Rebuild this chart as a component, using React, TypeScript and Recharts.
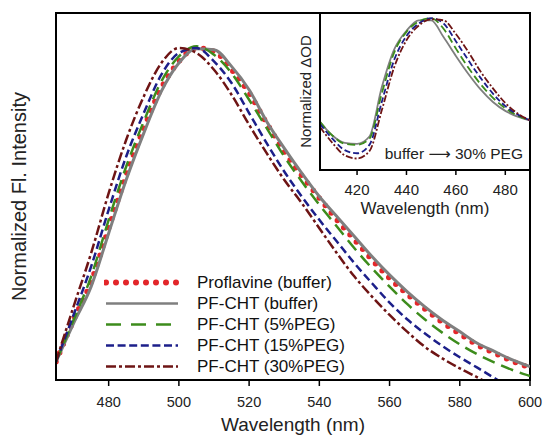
import React from "react";
import { LineChart, Line, XAxis, YAxis, ReferenceArea, Legend, Label } from "recharts";

const FONT = "'Liberation Sans', Arial, Helvetica, sans-serif";

// emission spectra, 465-600 nm every 5 nm (normalized)
const wavelengths = [465, 470, 475, 480, 485, 490, 495, 500, 505, 510, 515, 520, 525, 530, 535, 540, 545, 550, 555, 560, 565, 570, 575, 580, 585, 590, 595, 600];
const proflavineBuffer = [0.055, 0.18, 0.295, 0.455, 0.615, 0.755, 0.875, 0.955, 0.995, 0.985, 0.93, 0.86, 0.77, 0.685, 0.612, 0.545, 0.48, 0.42, 0.36, 0.305, 0.257, 0.213, 0.173, 0.138, 0.105, 0.08, 0.056, 0.037];
const pfBuffer = [0.055, 0.17, 0.28, 0.44, 0.6, 0.74, 0.865, 0.95, 0.993, 0.99, 0.94, 0.87, 0.775, 0.695, 0.62, 0.55, 0.49, 0.43, 0.37, 0.315, 0.265, 0.22, 0.18, 0.145, 0.11, 0.085, 0.06, 0.04];
const pf5 = [0.055, 0.18, 0.31, 0.48, 0.64, 0.775, 0.895, 0.97, 1.0, 0.975, 0.92, 0.84, 0.755, 0.67, 0.595, 0.525, 0.46, 0.395, 0.335, 0.28, 0.228, 0.182, 0.142, 0.107, 0.077, 0.052, 0.03, 0.012];
const pf15 = [0.055, 0.195, 0.34, 0.51, 0.67, 0.8, 0.915, 0.98, 0.995, 0.955, 0.89, 0.8, 0.71, 0.625, 0.55, 0.48, 0.415, 0.35, 0.29, 0.232, 0.182, 0.14, 0.102, 0.068, 0.037, 0.005, -0.025, -0.05];
const pf30 = [0.055, 0.22, 0.38, 0.56, 0.72, 0.85, 0.95, 0.995, 0.98, 0.93, 0.855, 0.765, 0.68, 0.6, 0.53, 0.455, 0.38, 0.31, 0.25, 0.195, 0.145, 0.1, 0.065, 0.035, 0.008, -0.02, -0.045, -0.07];
const xTicks = [480, 500, 520, 540, 560, 580, 600];

// inset: normalized delta OD, 405-490 nm
const insetWavelengths = [405, 410, 415, 420, 425, 430, 435, 440, 445, 450, 455, 460, 465, 470, 475, 480, 485, 490];
const insetBuffer = [0.01, -0.12, -0.19, -0.2, -0.13, 0.34, 0.7, 0.88, 0.98, 0.98, 0.82, 0.64, 0.47, 0.32, 0.2, 0.115, 0.06, 0.025];
const inset5 = [0.01, -0.12, -0.2, -0.21, -0.15, 0.28, 0.67, 0.87, 0.97, 1.0, 0.9, 0.71, 0.53, 0.37, 0.24, 0.14, 0.07, 0.025];
const inset15 = [-0.01, -0.15, -0.26, -0.29, -0.21, 0.2, 0.6, 0.83, 0.95, 1.0, 0.95, 0.78, 0.6, 0.43, 0.28, 0.16, 0.08, 0.025];
const inset30 = [-0.04, -0.19, -0.31, -0.34, -0.27, 0.12, 0.53, 0.79, 0.93, 0.99, 0.98, 0.85, 0.68, 0.49, 0.33, 0.19, 0.09, 0.025];
const insetTicks = [420, 440, 460, 480];

const RED = "#e3262a";
const GRAY = "#7f7f7f";
const GREEN = "#3d8c1c";
const BLUE = "#1c1f8a";
const BROWN = "#6e1414";

const series = [
  { key: "proflavine", name: "Proflavine (buffer)", color: RED, width: 5.5, dash: "0 9.6", cap: "round" },
  { key: "buffer", name: "PF-CHT (buffer)", color: GRAY, width: 3, dash: undefined, cap: "butt" },
  { key: "peg5", name: "PF-CHT (5%PEG)", color: GREEN, width: 2.5, dash: "13 7", cap: "butt" },
  { key: "peg15", name: "PF-CHT (15%PEG)", color: BLUE, width: 2.5, dash: "8 4", cap: "butt" },
  { key: "peg30", name: "PF-CHT (30%PEG)", color: BROWN, width: 2.5, dash: "10 3 3 3", cap: "butt" },
];
const legendDash: Record<string, string | undefined> = {
  proflavine: "0 10",
  buffer: undefined,
  peg5: "15 10",
  peg15: "8 3.6",
  peg30: "10 3 3 3",
};

const mainData = wavelengths.map((wl, i) => ({
  wl,
  proflavine: proflavineBuffer[i],
  buffer: pfBuffer[i],
  peg5: pf5[i],
  peg15: pf15[i],
  peg30: pf30[i],
}));

const insetData = insetWavelengths.map((wl, i) => ({
  wl,
  buffer: insetBuffer[i],
  peg5: inset5[i],
  peg15: inset15[i],
  peg30: inset30[i],
}));

const insetSeries = [
  { key: "buffer", color: GRAY, dash: undefined },
  { key: "peg5", color: GREEN, dash: "8 4" },
  { key: "peg15", color: BLUE, dash: "6 3" },
  { key: "peg30", color: BROWN, dash: "7 2 2 2" },
];

const renderLegend = () => (
  <div style={{ fontFamily: FONT, fontSize: 17, color: "#111" }}>
    {series.map((s) => (
      <div key={s.key} style={{ display: "flex", alignItems: "center", height: 21 }}>
        <svg width={78} height={21}>
          <line
            x1={2}
            x2={74}
            y1={10.5}
            y2={10.5}
            stroke={s.color}
            strokeWidth={s.key === "proflavine" ? 6 : 2.5}
            strokeDasharray={legendDash[s.key]}
            strokeLinecap={s.key === "proflavine" ? "round" : "butt"}
          />
        </svg>
        <span style={{ marginLeft: 15, lineHeight: "21px" }}>{s.name}</span>
      </div>
    ))}
  </div>
);

export default function App() {
  return (
    <div style={{ position: "absolute", left: 0, top: 0, width: 544, height: 435, background: "#fff" }}>
      <LineChart
        width={544}
        height={435}
        data={mainData}
        margin={{ top: 13, right: 14, left: 0, bottom: 0 }}
      >
        <XAxis
          dataKey="wl"
          type="number"
          domain={[465, 600]}
          ticks={xTicks}
          allowDataOverflow
          height={55}
          axisLine={{ stroke: "#000", strokeWidth: 2 }}
          tickLine={{ stroke: "#000", strokeWidth: 1.5 }}
          tickSize={6}
          tickMargin={11}
          tick={{ fontFamily: FONT, fontSize: 14.5, fill: "#222" }}
        >
          <Label
            content={(props: any) => {
              const vb = props.viewBox;
              return (
                <text x={vb.x + vb.width / 2} y={vb.y + 51} textAnchor="middle" fontFamily={FONT} fontSize={19} fill="#222">
                  Wavelength (nm)
                </text>
              );
            }}
          />
        </XAxis>
        <YAxis
          type="number"
          domain={[0, 1.1]}
          allowDataOverflow
          width={56}
          tick={false}
          tickLine={false}
          axisLine={{ stroke: "#000", strokeWidth: 2 }}
        >
          <Label
            content={(props: any) => {
              const vb = props.viewBox;
              const cx = 19;
              const cy = vb.y + vb.height / 2;
              return (
                <text
                  x={cx}
                  y={cy}
                  transform={`rotate(-90, ${cx}, ${cy})`}
                  textAnchor="middle"
                  dominantBaseline="central"
                  fontFamily={FONT}
                  fontSize={20}
                  fill="#222"
                >
                  Normalized Fl. Intensity
                </text>
              );
            }}
          />
        </YAxis>
        <ReferenceArea x1={465} x2={600} y1={0} y2={1.1} fill="none" stroke="#000" strokeWidth={2} />
        {series.map((s) => (
          <Line
            key={s.key}
            type="monotone"
            dataKey={s.key}
            name={s.name}
            stroke={s.color}
            strokeWidth={s.width}
            strokeDasharray={s.dash}
            strokeLinecap={s.cap as any}
            dot={false}
            activeDot={false}
            isAnimationActive={false}
          />
        ))}
        <Legend
          layout="vertical"
          align="center"
          verticalAlign="middle"
          content={renderLegend}
          wrapperStyle={{ left: 104, top: 272, width: 260 }}
        />
      </LineChart>

      <div style={{ position: "absolute", left: 280, top: 0 }}>
        <LineChart
          width={264}
          height={220}
          data={insetData}
          margin={{ top: 13, right: 14, left: 0, bottom: 0 }}
        >
          <XAxis
            dataKey="wl"
            type="number"
            domain={[405, 490]}
            ticks={insetTicks}
            allowDataOverflow
            height={50}
            axisLine={{ stroke: "#000", strokeWidth: 2 }}
            tickLine={{ stroke: "#000", strokeWidth: 1.5 }}
            tickSize={5}
            tickMargin={9}
            tick={{ fontFamily: FONT, fontSize: 15, fill: "#222" }}
          >
            <Label
              content={(props: any) => {
                const vb = props.viewBox;
                return (
                  <text x={vb.x + vb.width / 2} y={vb.y + 44} textAnchor="middle" fontFamily={FONT} fontSize={17} fill="#222">
                    Wavelength (nm)
                  </text>
                );
              }}
            />
          </XAxis>
          <YAxis
            type="number"
            domain={[-0.45, 1.05]}
            allowDataOverflow
            width={40}
            tick={false}
            tickLine={false}
            axisLine={{ stroke: "#000", strokeWidth: 2 }}
          >
            <Label
              content={(props: any) => {
                const vb = props.viewBox;
                const cx = 25;
                const cy = vb.y + vb.height / 2;
                return (
                  <text
                    x={cx}
                    y={cy}
                    transform={`rotate(-90, ${cx}, ${cy})`}
                    textAnchor="middle"
                    dominantBaseline="central"
                    fontFamily={FONT}
                    fontSize={15}
                    fill="#222"
                  >
                    Normalized ΔOD
                  </text>
                );
              }}
            />
          </YAxis>
          <ReferenceArea x1={405} x2={490} y1={-0.45} y2={1.05} fill="none" stroke="#000" strokeWidth={2}>
            <Label
              content={(props: any) => {
                const vb = props.viewBox;
                return (
                  <text x={vb.x + vb.width - 7} y={vb.y + vb.height - 11} textAnchor="end" fontFamily={FONT} fontSize={15.5} fill="#222">
                    buffer <tspan fontFamily="'DejaVu Sans'">⟶</tspan> 30% PEG
                  </text>
                );
              }}
            />
          </ReferenceArea>
          {insetSeries.map((s) => (
            <Line
              key={s.key}
              type="monotone"
              dataKey={s.key}
              stroke={s.color}
              strokeWidth={1.8}
              strokeDasharray={s.dash}
              dot={false}
              activeDot={false}
              isAnimationActive={false}
            />
          ))}
        </LineChart>
      </div>
    </div>
  );
}
